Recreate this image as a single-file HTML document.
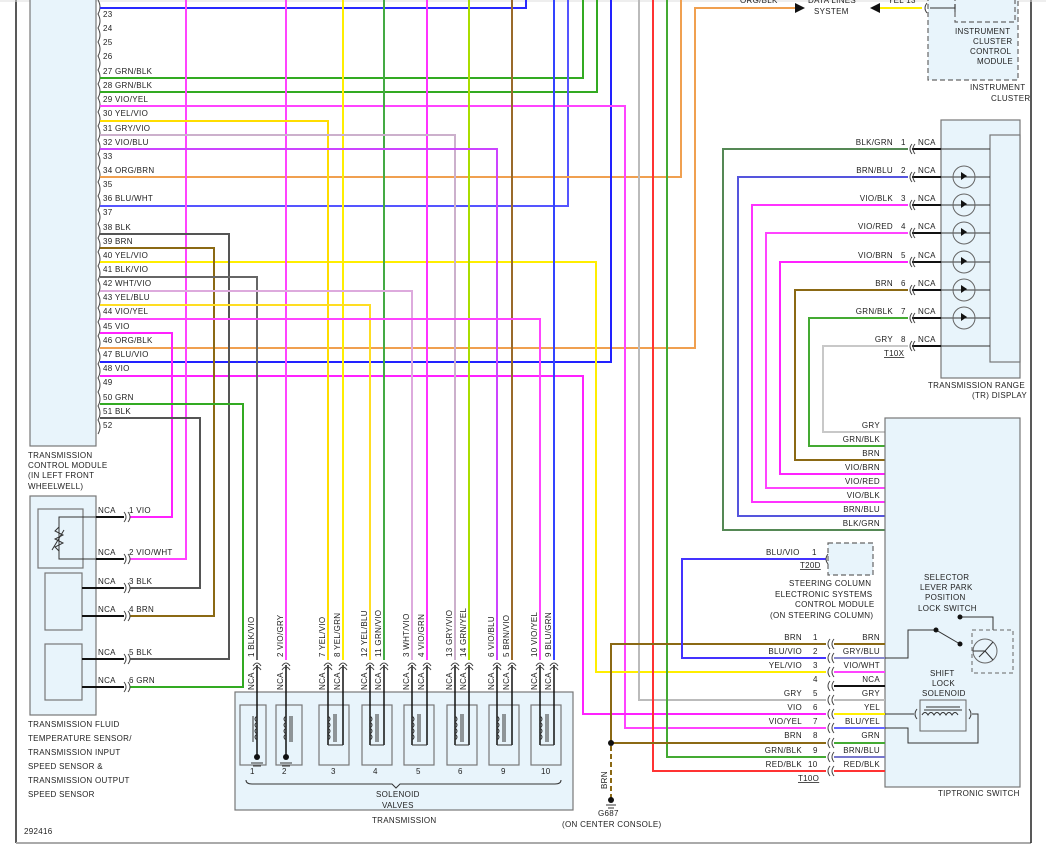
<!DOCTYPE html>
<html><head><meta charset="utf-8"><style>
body{margin:0;background:#fff}
svg{display:block}
text{font-family:"Liberation Sans",sans-serif;font-size:8px;fill:#222;letter-spacing:0.3px}
.w{fill:none;stroke-width:2}
.k{fill:none;stroke:#333;stroke-width:1}
.b{fill:none;stroke:#111;stroke-width:2}
.box{fill:#e8f4fb;stroke:#777;stroke-width:1.2}
.dash{fill:#e8f4fb;stroke:#666;stroke-width:1.2;stroke-dasharray:5,3}
.c{fill:none;stroke:#444;stroke-width:1}
</style></head><body>
<svg width="1046" height="852" viewBox="0 0 1046 852" xmlns="http://www.w3.org/2000/svg">
<!-- frame -->
<line x1="16" y1="0" x2="16" y2="843" stroke="#222" stroke-width="1.5"/>
<line x1="16" y1="843" x2="1031" y2="843" stroke="#aaa" stroke-width="2"/>
<line x1="1031" y1="0" x2="1031" y2="843" stroke="#222" stroke-width="1.5"/>
<line x1="0" y1="1" x2="1046" y2="1" stroke="#ddd"/>

<!-- TCM -->
<rect class="box" x="30" y="-2" width="66" height="448"/>
<g>
<text x="103" y="17">23</text><text x="103" y="31">24</text><text x="103" y="45">25</text><text x="103" y="59">26</text>
<text x="103" y="74">27 GRN/BLK</text><text x="103" y="88">28 GRN/BLK</text><text x="103" y="102">29 VIO/YEL</text>
<text x="103" y="116">30 YEL/VIO</text><text x="103" y="131">31 GRY/VIO</text><text x="103" y="145">32 VIO/BLU</text>
<text x="103" y="159">33</text><text x="103" y="173">34 ORG/BRN</text><text x="103" y="187">35</text>
<text x="103" y="201">36 BLU/WHT</text><text x="103" y="215">37</text><text x="103" y="230">38 BLK</text>
<text x="103" y="244">39 BRN</text><text x="103" y="258">40 YEL/VIO</text><text x="103" y="272">41 BLK/VIO</text>
<text x="103" y="286">42 WHT/VIO</text><text x="103" y="300">43 YEL/BLU</text><text x="103" y="314">44 VIO/YEL</text>
<text x="103" y="329">45 VIO</text><text x="103" y="343">46 ORG/BLK</text><text x="103" y="357">47 BLU/VIO</text>
<text x="103" y="371">48 VIO</text><text x="103" y="385">49</text><text x="103" y="400">50 GRN</text>
<text x="103" y="414">51 BLK</text><text x="103" y="428">52</text>
</g>
<path d="M98,0 q4,7 0,14 q4,7 0,14 q4,7 0,14 q4,7 0,14 q4,7 0,14 q4,7 0,14 q4,7 0,14 q4,7 0,14 q4,7 0,14 q4,7 0,14 q4,7 0,14 q4,7 0,14 q4,7 0,14 q4,7 0,14 q4,7 0,14 q4,7 0,14 q4,7 0,14 q4,7 0,14 q4,7 0,14 q4,7 0,14 q4,7 0,14 q4,7 0,14 q4,7 0,14 q4,7 0,14 q4,7 0,14 q4,7 0,14 q4,7 0,14 q4,7 0,14 q4,7 0,14 q4,7 0,14 q4,7 0,14" class="c"/>
<text x="28" y="458">TRANSMISSION</text><text x="28" y="468">CONTROL MODULE</text>
<text x="28" y="478">(IN LEFT FRONT</text><text x="28" y="489">WHEELWELL)</text>

<!-- wires from TCM going up -->
<path class="w" stroke="#2a2aff" d="M100,8 H526 V0"/>
<path class="w" stroke="#33aa22" d="M100,78 H583 V0"/>
<path class="w" stroke="#33aa22" d="M100,92 H597 V0"/>
<path class="w" stroke="#5555ff" d="M100,206 H568 V0"/>
<path class="w" stroke="#f0a050" d="M100,177 H681 V0"/>
<path class="w" stroke="#f0a050" d="M100,348 H695 V8 H795"/>
<path fill="#111" d="M795,3 L805,8 L795,13 Z"/>
<path class="w" stroke="#2222ff" d="M100,362 H611 V0"/>
<!-- to tiptronic -->
<path class="w" stroke="#ff44ff" d="M100,106 H625 V728 H826"/>
<path class="w" stroke="#ffee00" d="M100,262 H596 V672 H826"/>
<path class="w" stroke="#ff22ff" d="M100,376 H583 V714 H826"/>
<path class="w" stroke="#bbb" d="M639,0 V700 H826"/>
<path class="w" stroke="#ff3333" d="M653,0 V771 H826"/>
<path class="w" stroke="#44aa33" d="M667,0 V757 H826"/>
<path class="w" stroke="#8b6914" d="M826,644 H611 V743 H826"/>
<circle cx="611" cy="743" r="3" fill="#111"/>
<path d="M611,746 V800" stroke="#8b6914" stroke-width="2" stroke-dasharray="5,3"/>
<circle cx="611" cy="800" r="3" fill="#111"/>
<line x1="606" y1="805" x2="616" y2="805" stroke="#333"/><line x1="608" y1="808" x2="614" y2="808" stroke="#333"/>
<text x="0" y="0" transform="translate(607,789) rotate(-90)">BRN</text>
<text x="598" y="816">G687</text><text x="562" y="827">(ON CENTER CONSOLE)</text>
<path class="w" stroke="#4433ff" d="M826,559 H682 V658 H826"/>

<!-- sensor wires -->
<path class="w" stroke="#ff22ff" d="M100,333 H172 V517 H130"/>
<path class="w" stroke="#ff44ff" d="M186,0 V559 H130"/>
<path class="w" stroke="#555" d="M100,418 H200 V588 H130"/>
<path class="w" stroke="#8b6914" d="M100,248 H214 V616 H130"/>
<path class="w" stroke="#555" d="M100,234 H229 V659 H130"/>
<path class="w" stroke="#33aa22" d="M100,404 H243 V687 H130"/>

<!-- solenoid wires -->
<path class="w" stroke="#666" d="M100,277 H257 V660"/>
<path class="w" stroke="#dd66dd" d="M100,277 H257" opacity="0"/>
<path class="w" stroke="#ff44ff" d="M286,0 V660"/>
<path class="w" stroke="#ffdd00" d="M100,121 H328 V660"/>
<path class="w" stroke="#ffee00" d="M343,0 V660"/>
<path class="w" stroke="#ffdd22" d="M100,305 H370 V660"/>
<path class="w" stroke="#44aa44" d="M384,0 V660"/>
<path class="w" stroke="#ddaadd" d="M100,291 H412 V660"/>
<path class="w" stroke="#ff33ff" d="M427,0 V660"/>
<path class="w" stroke="#ccb0cc" d="M100,135 H455 V660"/>
<path class="w" stroke="#aadd00" d="M469,0 V660"/>
<path class="w" stroke="#cc44ff" d="M100,149 H497 V660"/>
<path class="w" stroke="#9a6a2a" d="M512,0 V660"/>
<path class="w" stroke="#ff44ff" d="M100,319 H540 V660"/>
<path class="w" stroke="#3344ff" d="M554,0 V660"/>

<!-- sensor block -->
<rect class="box" x="30" y="496" width="66" height="219"/>
<rect class="box" x="38" y="509" width="45" height="59"/>
<rect class="box" x="45" y="573" width="37" height="57"/>
<rect class="box" x="45" y="644" width="37" height="56"/>
<path class="k" d="M96,517 H59 V559 H96 M59,527 l-4,4 l8,4 l-8,4 l8,4 l-8,4 l4,4 M52,550 l12,-20"/>
<g stroke="#111" stroke-width="2">
<line x1="96" y1="517" x2="124" y2="517"/><line x1="96" y1="559" x2="124" y2="559"/>
<line x1="96" y1="588" x2="124" y2="588"/><line x1="96" y1="616" x2="124" y2="616"/>
<line x1="82" y1="588" x2="96" y2="588"/><line x1="82" y1="616" x2="96" y2="616"/>
<line x1="96" y1="659" x2="124" y2="659"/><line x1="96" y1="687" x2="124" y2="687"/>
<line x1="82" y1="659" x2="96" y2="659"/><line x1="82" y1="687" x2="96" y2="687"/>
</g>
<path class="c" d="M124,512 q4,5 0,10 M128,512 q4,5 0,10 M124,554 q4,5 0,10 M128,554 q4,5 0,10 M124,583 q4,5 0,10 M128,583 q4,5 0,10 M124,611 q4,5 0,10 M128,611 q4,5 0,10 M124,654 q4,5 0,10 M128,654 q4,5 0,10 M124,682 q4,5 0,10 M128,682 q4,5 0,10"/>
<text x="98" y="513">NCA</text><text x="129" y="513">1  VIO</text>
<text x="98" y="555">NCA</text><text x="129" y="555">2  VIO/WHT</text>
<text x="98" y="584">NCA</text><text x="129" y="584">3  BLK</text>
<text x="98" y="612">NCA</text><text x="129" y="612">4  BRN</text>
<text x="98" y="655">NCA</text><text x="129" y="655">5  BLK</text>
<text x="98" y="683">NCA</text><text x="129" y="683">6  GRN</text>
<text x="28" y="727">TRANSMISSION FLUID</text><text x="28" y="741">TEMPERATURE SENSOR/</text>
<text x="28" y="755">TRANSMISSION INPUT</text><text x="28" y="769">SPEED SENSOR &amp;</text>
<text x="28" y="783">TRANSMISSION OUTPUT</text><text x="28" y="797">SPEED SENSOR</text>
<text x="24" y="834">292416</text>

<!-- transmission block -->
<rect class="box" x="235" y="692" width="338" height="118"/>
<g class="box">
<rect x="240" y="705" width="26" height="60"/><rect x="276" y="705" width="26" height="60"/>
<rect x="319" y="705" width="30" height="60"/><rect x="362" y="705" width="30" height="60"/>
<rect x="404" y="705" width="30" height="60"/><rect x="447" y="705" width="30" height="60"/>
<rect x="489" y="705" width="30" height="60"/><rect x="531" y="705" width="30" height="60"/>
</g>
<g stroke="#111" stroke-width="1.5" fill="none">
<path d="M257,665 V757 M286,665 V757"/>
<path d="M328,665 V745 M343,665 V745 M370,665 V745 M384,665 V745 M412,665 V745 M427,665 V745 M455,665 V745 M469,665 V745 M497,665 V745 M512,665 V745 M540,665 V745 M554,665 V745"/>
</g>
<g class="k">
<path d="M257,716 q-4,3 0,6 q-4,3 0,6 q-4,3 0,6 q-4,3 0,6 M253,716 v26"/>
<path d="M286,716 q-4,3 0,6 q-4,3 0,6 q-4,3 0,6 q-4,3 0,6 M290,716 v26 M292,716 v26"/>
<path d="M328,716 q4,3 0,6 q4,3 0,6 q4,3 0,6 q4,3 0,6 M334,714 v28 M336,714 v28"/>
<path d="M370,716 q4,3 0,6 q4,3 0,6 q4,3 0,6 q4,3 0,6 M376,714 v28 M378,714 v28"/>
<path d="M412,716 q4,3 0,6 q4,3 0,6 q4,3 0,6 q4,3 0,6 M418,714 v28 M420,714 v28"/>
<path d="M455,716 q4,3 0,6 q4,3 0,6 q4,3 0,6 q4,3 0,6 M461,714 v28 M463,714 v28"/>
<path d="M497,716 q4,3 0,6 q4,3 0,6 q4,3 0,6 q4,3 0,6 M503,714 v28 M505,714 v28"/>
<path d="M540,716 q4,3 0,6 q4,3 0,6 q4,3 0,6 q4,3 0,6 M546,714 v28 M548,714 v28"/>
<path d="M328,745 H343 M370,745 H384 M412,745 H427 M455,745 H469 M497,745 H512 M540,745 H554"/>
</g>
<circle cx="257" cy="757" r="3" fill="#111"/><circle cx="286" cy="757" r="3" fill="#111"/>
<path class="k" d="M251,763 h12 M253,766 h8 M280,763 h12 M282,766 h8"/>
<path class="c" d="M253,666 q4,-6 8,0 M253,670 q4,-6 8,0 M282,666 q4,-6 8,0 M282,670 q4,-6 8,0 M324,666 q4,-6 8,0 M324,670 q4,-6 8,0 M339,666 q4,-6 8,0 M339,670 q4,-6 8,0 M366,666 q4,-6 8,0 M366,670 q4,-6 8,0 M380,666 q4,-6 8,0 M380,670 q4,-6 8,0 M408,666 q4,-6 8,0 M408,670 q4,-6 8,0 M423,666 q4,-6 8,0 M423,670 q4,-6 8,0 M451,666 q4,-6 8,0 M451,670 q4,-6 8,0 M465,666 q4,-6 8,0 M465,670 q4,-6 8,0 M493,666 q4,-6 8,0 M493,670 q4,-6 8,0 M508,666 q4,-6 8,0 M508,670 q4,-6 8,0 M536,666 q4,-6 8,0 M536,670 q4,-6 8,0 M550,666 q4,-6 8,0 M550,670 q4,-6 8,0"/>
<g>
<text transform="translate(254,690) rotate(-90)">NCA</text><text transform="translate(254,657) rotate(-90)">1  BLK/VIO</text>
<text transform="translate(283,690) rotate(-90)">NCA</text><text transform="translate(283,657) rotate(-90)">2  VIO/GRY</text>
<text transform="translate(325,690) rotate(-90)">NCA</text><text transform="translate(325,657) rotate(-90)">7  YEL/VIO</text>
<text transform="translate(340,690) rotate(-90)">NCA</text><text transform="translate(340,657) rotate(-90)">8  YEL/GRN</text>
<text transform="translate(367,690) rotate(-90)">NCA</text><text transform="translate(367,657) rotate(-90)">12  YEL/BLU</text>
<text transform="translate(381,690) rotate(-90)">NCA</text><text transform="translate(381,657) rotate(-90)">11  GRN/VIO</text>
<text transform="translate(409,690) rotate(-90)">NCA</text><text transform="translate(409,657) rotate(-90)">3  WHT/VIO</text>
<text transform="translate(424,690) rotate(-90)">NCA</text><text transform="translate(424,657) rotate(-90)">4  VIO/GRN</text>
<text transform="translate(452,690) rotate(-90)">NCA</text><text transform="translate(452,657) rotate(-90)">13  GRY/VIO</text>
<text transform="translate(466,690) rotate(-90)">NCA</text><text transform="translate(466,657) rotate(-90)">14  GRN/YEL</text>
<text transform="translate(494,690) rotate(-90)">NCA</text><text transform="translate(494,657) rotate(-90)">6  VIO/BLU</text>
<text transform="translate(509,690) rotate(-90)">NCA</text><text transform="translate(509,657) rotate(-90)">5  BRN/VIO</text>
<text transform="translate(537,690) rotate(-90)">NCA</text><text transform="translate(537,657) rotate(-90)">10  VIO/YEL</text>
<text transform="translate(551,690) rotate(-90)">NCA</text><text transform="translate(551,657) rotate(-90)">9  BLU/GRN</text>
</g>
<text x="250" y="774">1</text><text x="282" y="774">2</text><text x="331" y="774">3</text><text x="373" y="774">4</text>
<text x="416" y="774">5</text><text x="458" y="774">6</text><text x="501" y="774">9</text><text x="541" y="774">10</text>
<path class="k" d="M246,780 q0,4 6,4 H392 l4,4 l4,-4 H555 q6,0 6,-4"/>
<text x="376" y="797">SOLENOID</text><text x="382" y="808">VALVES</text>
<text x="372" y="823">TRANSMISSION</text>

<!-- top right -->
<text x="740" y="3">ORG/BLK</text>
<text x="808" y="3">DATA LINES</text><text x="814" y="14">SYSTEM</text>
<path class="w" stroke="#ffee00" d="M880,8 H922"/>
<path fill="#111" d="M880,3 L870,8 L880,13 Z"/>
<text x="888" y="3">YEL  13</text>
<rect class="dash" x="928" y="-5" width="90" height="85"/>
<rect class="dash" x="955" y="-5" width="60" height="27"/>
<path class="k" d="M930,8 H955 M955,4 V12"/>
<path class="c" d="M927,3 q-4,5 0,10"/>
<text x="955" y="34">INSTRUMENT</text><text x="973" y="44">CLUSTER</text><text x="970" y="54">CONTROL</text><text x="977" y="64">MODULE</text>
<text x="970" y="90">INSTRUMENT</text><text x="991" y="101">CLUSTER</text>

<!-- TR display -->
<rect class="box" x="941" y="120" width="79" height="258"/>
<rect class="box" x="990" y="135" width="30" height="227"/>
<g stroke="#333" stroke-width="1">
<line x1="941" y1="149" x2="990" y2="149"/><line x1="941" y1="177" x2="990" y2="177"/><line x1="941" y1="205" x2="990" y2="205"/>
<line x1="941" y1="233" x2="990" y2="233"/><line x1="941" y1="262" x2="990" y2="262"/><line x1="941" y1="290" x2="990" y2="290"/>
<line x1="941" y1="318" x2="990" y2="318"/><line x1="941" y1="346" x2="990" y2="346"/>
</g>
<g fill="none" stroke="#666">
<circle cx="964" cy="177" r="11"/><circle cx="964" cy="205" r="11"/><circle cx="964" cy="233" r="11"/>
<circle cx="964" cy="262" r="11"/><circle cx="964" cy="290" r="11"/><circle cx="964" cy="318" r="11"/>
</g>
<g fill="#111">
<path d="M961,172 l6,4 l-6,4z M961,200 l6,4 l-6,4z M961,228 l6,4 l-6,4z M961,257 l6,4 l-6,4z M961,285 l6,4 l-6,4z M961,313 l6,4 l-6,4z"/>
</g>
<g stroke="#111" stroke-width="2">
<line x1="912" y1="149" x2="941" y2="149"/><line x1="912" y1="177" x2="941" y2="177"/><line x1="912" y1="205" x2="941" y2="205"/>
<line x1="912" y1="233" x2="941" y2="233"/><line x1="912" y1="262" x2="941" y2="262"/><line x1="912" y1="290" x2="941" y2="290"/>
<line x1="912" y1="318" x2="941" y2="318"/><line x1="912" y1="346" x2="941" y2="346"/>
</g>
<path class="c" d="M912,144 q-4,5 0,10 M915,144 q-4,5 0,10 M912,172 q-4,5 0,10 M915,172 q-4,5 0,10 M912,200 q-4,5 0,10 M915,200 q-4,5 0,10 M912,228 q-4,5 0,10 M915,228 q-4,5 0,10 M912,257 q-4,5 0,10 M915,257 q-4,5 0,10 M912,285 q-4,5 0,10 M915,285 q-4,5 0,10 M912,313 q-4,5 0,10 M915,313 q-4,5 0,10 M912,341 q-4,5 0,10 M915,341 q-4,5 0,10"/>
<path class="w" stroke="#558855" d="M908,149 H723 V530 H885"/>
<path class="w" stroke="#5555dd" d="M908,177 H738 V516 H885"/>
<path class="w" stroke="#ff33ff" d="M908,205 H752 V502 H885"/>
<path class="w" stroke="#ff44ff" d="M908,233 H766 V488 H885"/>
<path class="w" stroke="#ff22ff" d="M908,262 H780 V474 H885"/>
<path class="w" stroke="#8b6914" d="M908,290 H795 V460 H885"/>
<path class="w" stroke="#44aa33" d="M908,318 H809 V446 H885"/>
<path class="w" stroke="#c8c8c8" d="M908,346 H823 V432 H885"/>
<g text-anchor="end">
<text x="893" y="145" text-anchor="end">BLK/GRN</text><text x="893" y="173" text-anchor="end">BRN/BLU</text>
<text x="893" y="201" text-anchor="end">VIO/BLK</text><text x="893" y="229" text-anchor="end">VIO/RED</text>
<text x="893" y="258" text-anchor="end">VIO/BRN</text><text x="893" y="286" text-anchor="end">BRN</text>
<text x="893" y="314" text-anchor="end">GRN/BLK</text><text x="893" y="342" text-anchor="end">GRY</text>
</g>
<text x="901" y="145">1</text><text x="901" y="173">2</text><text x="901" y="201">3</text><text x="901" y="229">4</text>
<text x="901" y="258">5</text><text x="901" y="286">6</text><text x="901" y="314">7</text><text x="901" y="342">8</text>
<text x="918" y="145">NCA</text><text x="918" y="173">NCA</text><text x="918" y="201">NCA</text><text x="918" y="229">NCA</text>
<text x="918" y="258">NCA</text><text x="918" y="286">NCA</text><text x="918" y="314">NCA</text><text x="918" y="342">NCA</text>
<text x="884" y="356" text-decoration="underline">T10X</text>
<text x="928" y="388">TRANSMISSION RANGE</text><text x="972" y="398">(TR) DISPLAY</text>

<!-- tiptronic -->
<rect class="box" x="885" y="418" width="135" height="369"/>
<g text-anchor="end">
<text x="880" y="428" text-anchor="end">GRY</text><text x="880" y="442" text-anchor="end">GRN/BLK</text>
<text x="880" y="456" text-anchor="end">BRN</text><text x="880" y="470" text-anchor="end">VIO/BRN</text>
<text x="880" y="484" text-anchor="end">VIO/RED</text><text x="880" y="498" text-anchor="end">VIO/BLK</text>
<text x="880" y="512" text-anchor="end">BRN/BLU</text><text x="880" y="526" text-anchor="end">BLK/GRN</text>
</g>
<rect class="dash" x="828" y="543" width="45" height="32"/>
<path class="c" d="M828,554 q-4,5 0,10"/>
<text x="766" y="555">BLU/VIO</text><text x="812" y="555">1</text>
<text x="800" y="568" text-decoration="underline">T20D</text>
<text x="789" y="586">STEERING COLUMN</text><text x="775" y="597">ELECTRONIC SYSTEMS</text>
<text x="795" y="607">CONTROL MODULE</text><text x="770" y="618">(ON STEERING COLUMN)</text>
<g stroke-width="2">
<line x1="834" y1="644" x2="885" y2="644" stroke="#8b6914"/>
<line x1="834" y1="658" x2="885" y2="658" stroke="#8888cc"/>
<line x1="834" y1="672" x2="885" y2="672" stroke="#ff44ff"/>
<line x1="834" y1="686" x2="885" y2="686" stroke="#111"/>
<line x1="834" y1="700" x2="885" y2="700" stroke="#bbb"/>
<line x1="834" y1="714" x2="885" y2="714" stroke="#ffee00"/>
<line x1="834" y1="728" x2="885" y2="728" stroke="#6666ff"/>
<line x1="834" y1="743" x2="885" y2="743" stroke="#44aa33"/>
<line x1="834" y1="757" x2="885" y2="757" stroke="#7777cc"/>
<line x1="834" y1="771" x2="885" y2="771" stroke="#ff3333"/>
</g>
<path class="c" d="M830,639 q-4,5 0,10 M834,639 q-4,5 0,10 M830,653 q-4,5 0,10 M834,653 q-4,5 0,10 M830,667 q-4,5 0,10 M834,667 q-4,5 0,10 M830,681 q-4,5 0,10 M834,681 q-4,5 0,10 M830,695 q-4,5 0,10 M834,695 q-4,5 0,10 M830,709 q-4,5 0,10 M834,709 q-4,5 0,10 M830,723 q-4,5 0,10 M834,723 q-4,5 0,10 M830,738 q-4,5 0,10 M834,738 q-4,5 0,10 M830,752 q-4,5 0,10 M834,752 q-4,5 0,10 M830,766 q-4,5 0,10 M834,766 q-4,5 0,10"/>
<g>
<text x="802" y="640" text-anchor="end">BRN</text><text x="802" y="654" text-anchor="end">BLU/VIO</text>
<text x="802" y="668" text-anchor="end">YEL/VIO</text><text x="802" y="696" text-anchor="end">GRY</text>
<text x="802" y="710" text-anchor="end">VIO</text><text x="802" y="724" text-anchor="end">VIO/YEL</text>
<text x="802" y="738" text-anchor="end">BRN</text><text x="802" y="753" text-anchor="end">GRN/BLK</text>
<text x="802" y="767" text-anchor="end">RED/BLK</text>
<text x="813" y="640">1</text><text x="813" y="654">2</text><text x="813" y="668">3</text><text x="813" y="682">4</text>
<text x="813" y="696">5</text><text x="813" y="710">6</text><text x="813" y="724">7</text><text x="813" y="738">8</text>
<text x="813" y="753">9</text><text x="808" y="767">10</text>
<text x="798" y="781" text-decoration="underline">T10O</text>
<text x="880" y="640" text-anchor="end">BRN</text><text x="880" y="654" text-anchor="end">GRY/BLU</text>
<text x="880" y="668" text-anchor="end">VIO/WHT</text><text x="880" y="682" text-anchor="end">NCA</text>
<text x="880" y="696" text-anchor="end">GRY</text><text x="880" y="710" text-anchor="end">YEL</text>
<text x="880" y="724" text-anchor="end">BLU/YEL</text><text x="880" y="738" text-anchor="end">GRN</text>
<text x="880" y="753" text-anchor="end">BRN/BLU</text><text x="880" y="767" text-anchor="end">RED/BLK</text>
</g>
<text x="924" y="580">SELECTOR</text><text x="920" y="590">LEVER PARK</text><text x="925" y="600">POSITION</text><text x="918" y="611">LOCK SWITCH</text>
<path class="k" d="M885,658 H908 V630 H936 L960,644 M960,617 H993 V630"/>
<circle cx="936" cy="630" r="2.5" fill="#111"/><circle cx="960" cy="644" r="2.5" fill="#111"/><circle cx="960" cy="617" r="2.5" fill="#111"/>
<rect x="972" y="630" width="41" height="43" fill="none" stroke="#666" stroke-dasharray="4,3"/>
<circle cx="985" cy="651" r="12" fill="none" stroke="#666"/>
<path class="k" d="M973,651 H985 L993,642 M985,651 L993,660 M985,651 L979,657"/>
<text x="930" y="676">SHIFT</text><text x="932" y="686">LOCK</text><text x="922" y="696">SOLENOID</text>
<rect x="920" y="700" width="46" height="31" fill="none" stroke="#666"/>
<path class="k" d="M885,714 H914 M972,714 H978 V743 H908 V728 H885 M924,710 H962 M926,707 H960 M922,715 q3,-5 6,0 q3,-5 6,0 q3,-5 6,0 q3,-5 6,0 q3,-5 6,0 q3,-5 6,0"/>
<path class="c" d="M917,709 q-4,5 0,10 M969,709 q4,5 0,10"/>
<text x="938" y="796">TIPTRONIC SWITCH</text>
</svg>
</body></html>
